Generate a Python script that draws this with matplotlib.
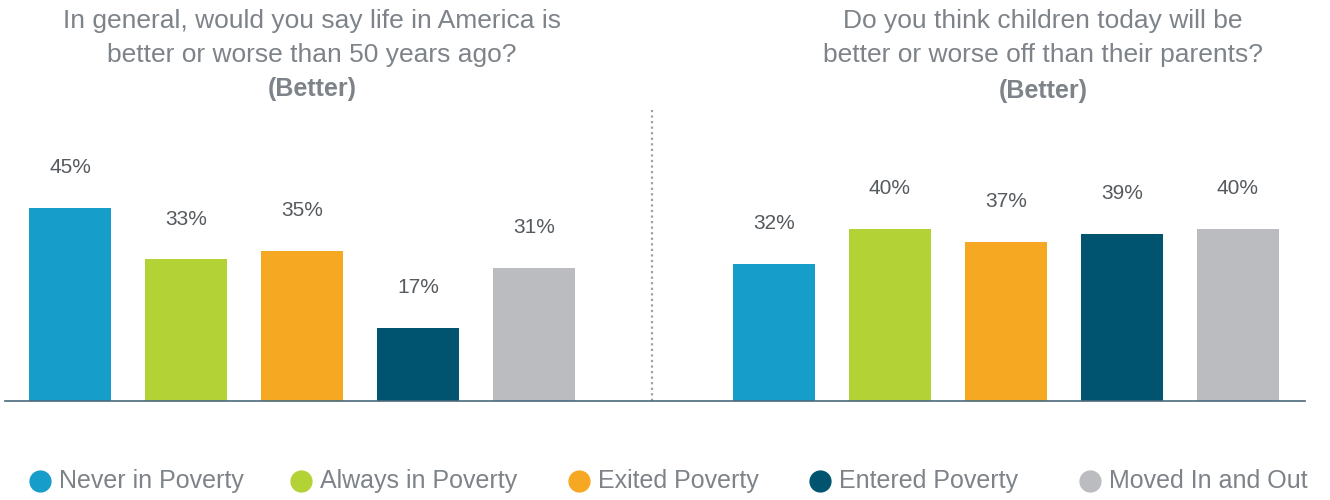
import matplotlib.pyplot as plt
from matplotlib.lines import Line2D

categories = ["Never in Poverty", "Always in Poverty", "Exited Poverty",
              "Entered Poverty", "Moved In and Out"]
life_better = [45, 33, 35, 17, 31]
children_better = [32, 40, 37, 39, 40]
colors = ["#179dc9", "#b2d235", "#f7a823", "#00546f", "#bbbcc0"]

titles = ["In general, would you say life in America is\nbetter or worse than 50 years ago?",
          "Do you think children today will be\nbetter or worse off than their parents?"]

# legend marker x positions (pixels) - layout only
legend_x = [40, 301, 579, 820, 1090]

plt.rcParams['font.family'] = ['Liberation Sans', 'DejaVu Sans']
grey = "#7d8389"

fig = plt.figure(figsize=(13.3, 5), dpi=100)
ax = fig.add_axes([0.0038, 0.198, 0.9774, 0.582])

x1 = [0, 1, 2, 3, 4]
x2 = [6.07, 7.07, 8.07, 9.07, 10.07]
ax.bar(x1, life_better, width=0.71, color=colors)
ax.bar(x2, children_better, width=0.71, color=colors)
for xs, vals in [(x1, life_better), (x2, children_better)]:
    for x, v in zip(xs, vals):
        ax.text(x, v + 9.4, f"{v}%", ha="center", va="center",
                fontsize=15, color="#555a5e")

ax.axvline(5.02, ymin=0, ymax=1, color="#a0a0a0", linestyle=(0, (1, 1.5)), lw=1.6)
ax.set_xlim(-0.56, 10.65)
ax.set_ylim(0, 67.8)
for s in ["top", "right", "left"]:
    ax.spines[s].set_visible(False)
ax.spines["bottom"].set_color("#4a6a7c")
ax.spines["bottom"].set_linewidth(1.2)
ax.set_xticks([])
ax.set_yticks([])

fig.text(312 / 1330, 1 - 38 / 500, titles[0], ha="center", va="center",
         fontsize=19, color=grey, linespacing=1.5)
fig.text(312 / 1330, 1 - 89 / 500, "(Better)", ha="center", va="center",
         fontsize=18, color=grey, fontweight="bold")
fig.text(1043 / 1330, 1 - 38 / 500, titles[1], ha="center", va="center",
         fontsize=19, color=grey, linespacing=1.5)
fig.text(1043 / 1330, 1 - 91 / 500, "(Better)", ha="center", va="center",
         fontsize=18, color=grey, fontweight="bold")

ly = 1 - 481 / 500
for px, c, lab in zip(legend_x, colors, categories):
    fig.add_artist(Line2D([px / 1330], [ly], marker="o", markersize=15,
                          color=c, linestyle="", transform=fig.transFigure))
    fig.text((px + 19) / 1330, ly, lab, ha="left", va="center",
             fontsize=18, color=grey)

fig.savefig("out.png", dpi=100)
